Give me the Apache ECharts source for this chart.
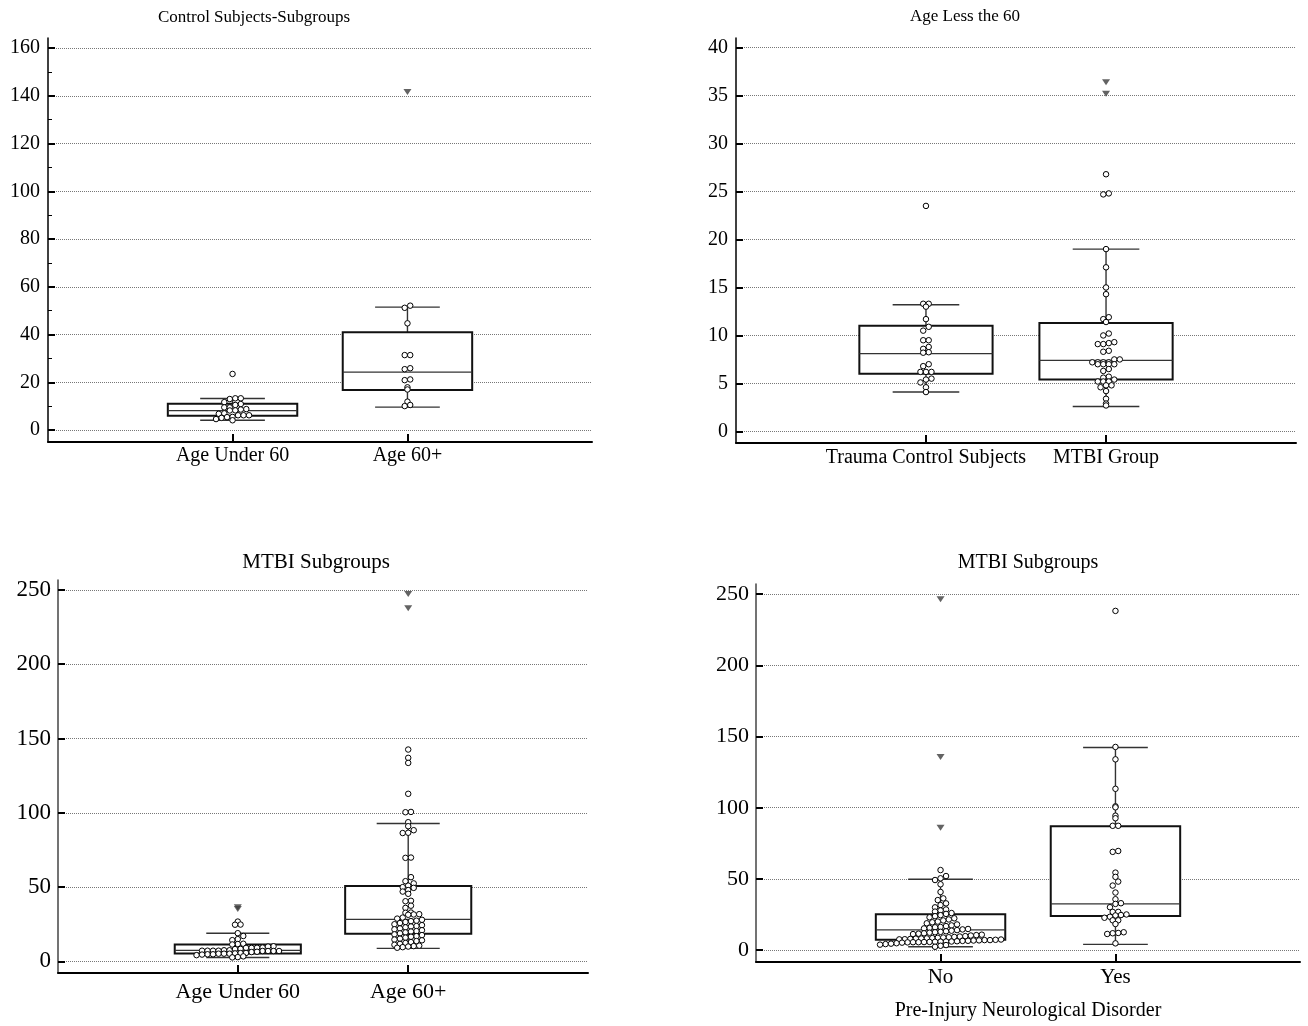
<!DOCTYPE html>
<html><head><meta charset="utf-8">
<script src="https://cdn.jsdelivr.net/npm/echarts@6/dist/echarts.min.js"></script>
<style>html,body{margin:0;padding:0;background:#fff}#c{width:1308px;height:1026px}</style>
</head><body><div id="c"></div>
<script>
// ---------------- DATA ----------------
const titles = ['Control Subjects-Subgroups', 'Age Less the 60', 'MTBI Subgroups', 'MTBI Subgroups'];
const p1Categories = ['Age Under 60', 'Age 60+'];
const p2Categories = ['Trauma Control Subjects', 'MTBI Group'];
const p3Categories = ['Age Under 60', 'Age 60+'];
const p4Categories = ['No', 'Yes'];
const p4AxisName = 'Pre-Injury Neurological Disorder';

const p1Ticks = [0, 20, 40, 60, 80, 100, 120, 140, 160];
const p1MinorTicks = [10, 30, 50, 70, 90, 110, 130, 150];
const p2Ticks = [0, 5, 10, 15, 20, 25, 30, 35, 40];
const p3Ticks = [0, 50, 100, 150, 200, 250];
const p4Ticks = [0, 50, 100, 150, 200, 250];

// box stats: [lower whisker, Q1, median, Q3, upper whisker]
const controlUnder60 = [23.5, 13.3, 13.3, 13.0, 11.7, 10.9, 10.5, 9.5, 9.5, 8.8, 8.6, 8.25, 8.2, 7.0, 6.8, 6.2, 6.2, 6.2, 5.5, 5.4, 5.1, 4.6, 4.1];
const controlUnder60Far = [];
const controlUnder60Box = [4.1, 6.0, 8.1, 11.0, 13.2];

const control60Plus = [52.1, 51.2, 44.7, 31.4, 31.4, 25.9, 25.5, 21.2, 20.9, 17.9, 17.0, 11.9, 10.5, 10.05];
const control60PlusFar = [141.6];
const control60PlusBox = [9.6, 16.8, 24.3, 41.0, 51.5];

const mtbiUnder60 = [26.8, 24.8, 24.7, 19.0, 17.1, 15.0, 14.3, 11.9, 11.7, 11.4, 10.2, 10.0, 9.3, 9.2, 9.1, 9.1, 8.4, 8.3, 7.5, 7.5, 7.2, 7.2, 7.2, 7.2, 7.0, 7.0, 7.0, 7.0, 6.5, 6.3, 5.7, 5.6, 5.4, 5.2, 5.2, 5.2, 4.8, 4.8, 4.6, 4.2, 3.4, 2.9, 2.7];
const mtbiUnder60Far = [36.4, 35.2];
const mtbiUnder60Box = [2.6, 5.4, 7.4, 11.3, 19.0];

const mtbi60Plus = [142.6, 137.0, 133.6, 112.8, 100.6, 100.4, 93.7, 91.0, 88.3, 86.6, 86.4, 69.9, 69.7, 56.7, 54.0, 52.5, 51.0, 50.0, 49.5, 48.0, 47.0, 45.5, 40.8, 40.5, 37.5, 36.0, 32.9, 32.7, 31.8, 31.6, 31.4,
  29.5, 28.8, 28.0, 27.4, 27.1, 26.5, 25.8, 25.0, 24.4, 23.8, 23.5, 22.9, 22.2, 21.6, 21.0, 20.4, 20.1, 19.5, 18.9, 18.2, 17.7, 17.0, 16.6, 16.0, 15.3, 14.7, 14.2, 13.7, 13.0, 12.4, 11.8, 11.2, 10.6, 10.3, 10.0, 9.6, 9.2];
const mtbi60PlusFar = [247.3, 237.7];
const mtbi60PlusBox = [8.8, 18.7, 28.3, 50.7, 92.8];

const neuroNo = [56.2, 52.0, 50.4, 49.2, 46.2, 40.8, 36.3, 35.1, 32.8, 31.6, 30.0, 28.5, 27.8, 27.0, 26.0, 25.4,
  24.5, 23.8, 23.0, 22.3, 21.5, 20.8, 20.0, 19.5, 18.8, 18.0, 17.3, 16.8, 16.2, 16.0,
  15.5, 15.2, 14.8, 14.5, 14.0, 13.6, 13.2, 12.8, 12.5, 12.2,
  11.8, 11.5, 11.2, 10.8, 10.5, 10.2, 9.8, 9.5, 9.2, 9.0, 8.8, 8.6,
  8.4, 8.2, 8.1, 8.0, 7.8, 7.6, 7.5, 7.4, 7.2, 7.0, 7.0, 6.8, 6.7, 6.5, 6.4, 6.2, 6.0, 6.0, 5.9, 5.8, 5.7, 5.6, 5.5, 5.5, 5.4, 5.2,
  4.8, 4.5, 4.2, 3.8, 3.5, 3.0, 2.3];
const neuroNoFar = [246.5, 135.6, 85.9];
const neuroNoBox = [2.3, 7.2, 14.2, 25.2, 49.7];

const neuroYes = [238.3, 142.7, 134.0, 113.3, 101.0, 100.3, 94.4, 92.6, 87.3, 87.3, 69.6, 69.0, 54.4, 51.4, 48.1, 45.3, 40.4, 35.7, 32.9, 32.4, 30.1, 26.8, 26.8, 25.0, 24.6, 24.3, 23.4, 22.7, 20.9, 20.9, 18.3, 12.5, 12.0, 11.8, 11.3, 4.7];
const neuroYesFar = [];
const neuroYesBox = [4.0, 23.9, 32.5, 86.9, 142.3];

// ---------------- LAYOUT / STYLE ----------------
const FONT = 'Liberation Serif';
const panels = [
  { grid: {left: 48, top: 38, width: 544, height: 404}, yMin: -5, yMax: 164.2, ticks: p1Ticks, minor: p1MinorTicks, cats: p1Categories,
    groups: [{pts: controlUnder60, far: controlUnder60Far, box: controlUnder60Box}, {pts: control60Plus, far: control60PlusFar, box: control60PlusBox}],
    title: [254, 18], tf: 17, yf: 20, xf: 20, xm: 4, ym: 8 },
  { grid: {left: 736, top: 38, width: 560, height: 405}, yMin: -1.21, yMax: 41.0, ticks: p2Ticks, minor: null, cats: p2Categories,
    groups: [{pts: controlUnder60, far: controlUnder60Far, box: controlUnder60Box}, {pts: mtbiUnder60, far: mtbiUnder60Far, box: mtbiUnder60Box}],
    title: [965, 17], tf: 17, yf: 20, xf: 20, xm: 5, ym: 8 },
  { grid: {left: 58, top: 580, width: 530, height: 393}, yMin: -7.8, yMax: 256.7, ticks: p3Ticks, minor: null, cats: p3Categories,
    groups: [{pts: mtbiUnder60, far: mtbiUnder60Far, box: mtbiUnder60Box}, {pts: mtbi60Plus, far: mtbi60PlusFar, box: mtbi60PlusBox}],
    title: [316, 562], tf: 21, yf: 23, xf: 22, xm: 8, ym: 7 },
  { grid: {left: 756, top: 584, width: 544, height: 378}, yMin: -8.4, yMax: 257.2, ticks: p4Ticks, minor: null, cats: p4Categories,
    groups: [{pts: neuroNo, far: neuroNoFar, box: neuroNoBox}, {pts: neuroYes, far: neuroYesFar, box: neuroYesBox}],
    title: [1028, 563], tf: 20, yf: 22, xf: 21, xm: 5, ym: 7, axisName: p4AxisName }
];

const X_MIN = -0.055, X_MAX = 3.055, BOX_W = 0.74, CAP_W = 0.37;

const chart = echarts.init(document.getElementById('c'), null, {renderer: 'canvas'});

function boxRender(params, api) {
  const x = api.value(0);
  const lo = api.coord([x, api.value(1)]);
  const q1 = api.coord([x, api.value(2)]);
  const md = api.coord([x, api.value(3)]);
  const q3 = api.coord([x, api.value(4)]);
  const hi = api.coord([x, api.value(5)]);
  const bw = api.size([BOX_W, 0])[0];
  const cw = api.size([CAP_W, 0])[0];
  const cx = lo[0];
  const ws = {stroke: '#333', lineWidth: 1.4};
  return {type: 'group', children: [
    {type: 'line', shape: {x1: cx, y1: hi[1], x2: cx, y2: q3[1]}, style: ws},
    {type: 'line', shape: {x1: cx, y1: q1[1], x2: cx, y2: lo[1]}, style: ws},
    {type: 'line', shape: {x1: cx - cw / 2, y1: hi[1], x2: cx + cw / 2, y2: hi[1]}, style: ws},
    {type: 'line', shape: {x1: cx - cw / 2, y1: lo[1], x2: cx + cw / 2, y2: lo[1]}, style: ws},
    {type: 'rect', shape: {x: cx - bw / 2, y: q3[1], width: bw, height: q1[1] - q3[1]}, style: {fill: '#fff', stroke: '#111', lineWidth: 2}},
    {type: 'line', shape: {x1: cx - bw / 2, y1: md[1], x2: cx + bw / 2, y2: md[1]}, style: {stroke: '#333', lineWidth: 1.2}}
  ]};
}

const grids = [], xAxes = [], yAxes = [], series = [], graphics = [];
panels.forEach((p, i) => {
  grids.push(Object.assign({}, p.grid));
  xAxes.push({
    gridIndex: i, type: 'value', min: X_MIN, max: X_MAX,
    axisLine: {show: true, onZero: false, lineStyle: {color: '#000', width: 2}},
    axisTick: {show: true, customValues: [1, 2], inside: true, length: 8, lineStyle: {color: '#000', width: 2}},
    axisLabel: {customValues: [1, 2], formatter: v => p.cats[Math.round(v) - 1] || '', fontFamily: FONT, fontSize: p.xf, color: '#000', margin: p.xm},
    splitLine: {show: false},
    name: p.axisName || '', nameLocation: 'middle', nameGap: 39,
    nameTextStyle: {fontFamily: FONT, fontSize: 20, color: '#000'}
  });
  yAxes.push({
    gridIndex: i, type: 'value', position: 'left', min: p.yMin, max: p.yMax,
    axisLine: {show: true, onZero: false, lineStyle: {color: i >= 2 ? '#444' : '#000', width: 1.5}},
    axisTick: {show: true, customValues: p.ticks, inside: true, length: 7, lineStyle: {color: '#000', width: 2}},
    axisLabel: {customValues: p.ticks, fontFamily: FONT, fontSize: p.yf, color: '#000', margin: p.ym},
    splitLine: {show: true, lineStyle: {color: '#777', width: 1, type: [1, 1]}}
  });
  graphics.push({type: 'text', x: p.title[0], y: p.title[1], style: {text: titles[i], fontFamily: FONT, fontSize: p.tf, fill: '#000', textAlign: 'center', textVerticalAlign: 'middle'}});
  series.push({
    type: 'custom', xAxisIndex: i, yAxisIndex: i, z: 2, silent: true, renderItem: boxRender,
    data: p.groups.map((g, k) => [k + 1].concat(g.box))
  });
  series.push({
    type: 'scatter', xAxisIndex: i, yAxisIndex: i, z: 4, silent: true, symbol: 'circle', symbolSize: 5.5,
    itemStyle: {color: '#fff', borderColor: '#000', borderWidth: 1, opacity: 1},
    data: [].concat(...p.groups.map((g, k) => g.pts.map(v => [k + 1, v])))
  });
  series.push({
    type: 'scatter', xAxisIndex: i, yAxisIndex: i, z: 4, silent: true, symbol: 'triangle', symbolRotate: 180, symbolSize: [8, 6],
    itemStyle: {color: '#3c3c3c'},
    data: [].concat(...p.groups.map((g, k) => g.far.map(v => [k + 1, v])))
  });
});
// minor ticks for panel 1
yAxes.push({
  gridIndex: 0, type: 'value', position: 'left', min: panels[0].yMin, max: panels[0].yMax,
  axisLine: {show: false, onZero: false}, axisLabel: {show: false}, splitLine: {show: false},
  axisTick: {show: true, customValues: p1MinorTicks, inside: true, length: 4, lineStyle: {color: '#000', width: 1}}
});

chart.setOption({
  animation: false, backgroundColor: '#fff',
  grid: grids, xAxis: xAxes, yAxis: yAxes, series: series, graphic: graphics
});

// ------------- dot-plot layout: rows of points binned in pixel space -------------
function binSpread(ys, binH, d, y0) {
  const offs = new Array(ys.length);
  const bins = {};
  ys.forEach((y, i) => {
    const b = Math.floor((y0 - y) / binH);
    (bins[b] = bins[b] || []).push(i);
  });
  Object.keys(bins).forEach(b => {
    const idx = bins[b].sort((a, c) => ys[c] - ys[a]);
    const n = idx.length;
    idx.forEach((i, j) => { offs[i] = (j - (n - 1) / 2) * d; });
  });
  return offs;
}

const updated = [];
panels.forEach((p, i) => {
  const finder = {seriesIndex: i * 3};
  const a = chart.convertToPixel(finder, [0, 0]);
  const b = chart.convertToPixel(finder, [1, 0]);
  const pxPerX = b[0] - a[0];
  const y0 = a[1];
  const circles = [], tris = [];
  p.groups.forEach((g, k) => {
    const cx = k + 1;
    const ys = g.pts.map(v => chart.convertToPixel(finder, [cx, v])[1]);
    const off = binSpread(ys, 5.3, 5.5, y0);
    g.pts.forEach((v, j) => circles.push([cx + off[j] / pxPerX, v]));
    const ty = g.far.map(v => chart.convertToPixel(finder, [cx, v])[1]);
    const toff = binSpread(ty, 5.3, 5, y0);
    g.far.forEach((v, j) => tris.push([cx + toff[j] / pxPerX, v]));
  });
  updated[i * 3] = {};
  updated[i * 3 + 1] = {data: circles};
  updated[i * 3 + 2] = {data: tris};
});
chart.setOption({series: updated});
</script>
</body></html>
